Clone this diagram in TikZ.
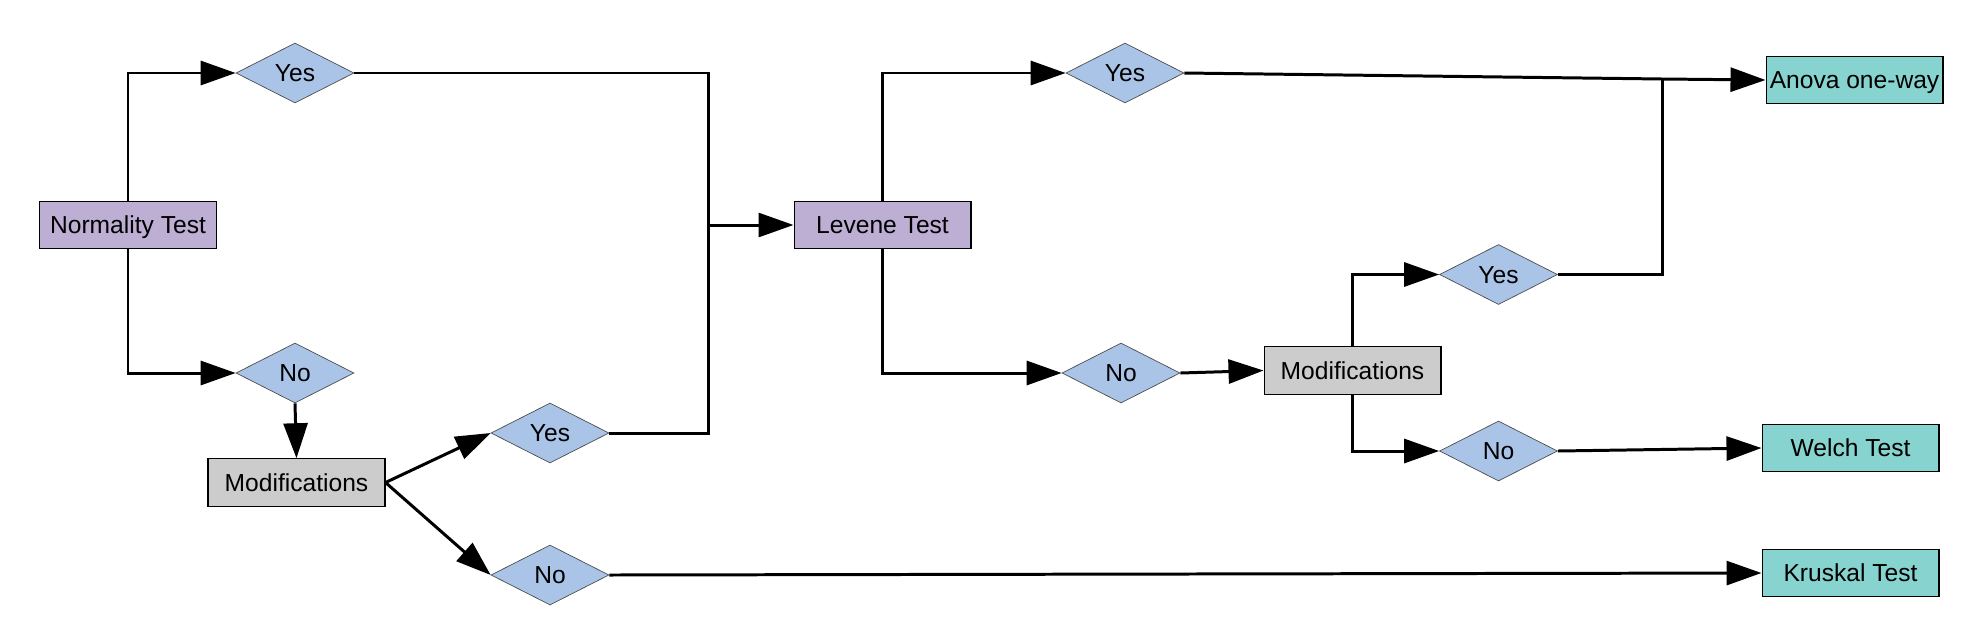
\documentclass[tikz,border=0pt]{standalone}
\usepackage{fontspec}
\setmainfont{Liberation Sans}
\usepackage{xcolor}
\usetikzlibrary{shapes.geometric,arrows.meta}
\definecolor{testcol}{RGB}{189,174,212}
\definecolor{answercol}{RGB}{170,196,232}
\definecolor{modcol}{RGB}{204,204,204}
\definecolor{rescol}{RGB}{135,211,207}

\begin{document}
\begin{tikzpicture}[x=0.02cm,y=-0.02cm,font=\fontsize{14}{16}\selectfont]
  \tikzstyle{plainbox}=[rectangle,draw,line width=0.6pt,minimum width=3.54cm,minimum height=0.95cm,inner sep=0pt,text height=10pt,text depth=0pt]
  \tikzstyle{testbox}=[plainbox,fill=testcol]
  \tikzstyle{modbox}=[plainbox,fill=modcol]
  \tikzstyle{resbox}=[plainbox,fill=rescol,minimum height=0.93cm]
  \tikzstyle{answerdia}=[diamond,draw=black!70,line width=0.4pt,fill=answercol,minimum width=2.36cm,minimum height=1.2cm,inner sep=0pt,text height=10pt,text depth=0pt]
  \tikzstyle{flowline}=[line width=1.7pt]
  \tikzstyle{flowarrow}=[flowline,-{Triangle[length=0.7cm,width=0.48cm]}]
  \useasboundingbox (0,0) rectangle (1966,643);

  \node[testbox] (normality) at (128,225) {Normality Test};
  \node[answerdia] (yesA) at (295,73) {Yes};
  \node[answerdia] (noA) at (295,373) {No};
  \node[modbox] (modA) at (296.5,482.5) {Modifications};
  \node[answerdia] (yesB) at (550,433) {Yes};
  \node[answerdia] (noB) at (550,575) {No};
  \node[testbox] (levene) at (882.5,225) {Levene Test};
  \node[answerdia] (yesC) at (1125,73) {Yes};
  \node[answerdia] (noC) at (1121,373) {No};
  \node[modbox] (modB) at (1352.5,370.5) {Modifications};
  \node[answerdia] (yesD) at (1498.5,274.5) {Yes};
  \node[answerdia] (noD) at (1498.5,451) {No};
  \node[resbox] (anova) at (1854.5,80) {Anova one-way};
  \node[resbox] (welch) at (1850.5,448) {Welch Test};
  \node[resbox] (kruskal) at (1850.5,573) {Kruskal Test};
  \coordinate (jA) at (708,225);
  \coordinate (jB) at (1662,79);

  \draw[flowarrow] (normality.north) |- (yesA.west);
  \draw[flowarrow] (normality.south) |- (noA.west);
  \draw[flowarrow] (noA.south) -- (modA.north);
  \draw[flowarrow] (modA.east) -- (yesB.west);
  \draw[flowarrow] (modA.east) -- (noB.west);
  \draw[flowline] (yesA.east) -| (jA) |- (yesB.east);
  \draw[flowarrow] (jA) -- (levene.west);
  \draw[flowarrow] (noB.east) -- (kruskal.west);
  \draw[flowarrow] (levene.north) |- (yesC.west);
  \draw[flowarrow] (levene.south) |- (noC.west);
  \draw[flowarrow] (noC.east) -- (modB.west);
  \draw[flowarrow] (modB.north) |- (yesD.west);
  \draw[flowarrow] (modB.south) |- (noD.west);
  \draw[flowline] (yesC.east) -- (jB);
  \draw[flowline] (yesD.east) -| (jB);
  \draw[flowarrow] (jB) -- (anova.west);
  \draw[flowarrow] (noD.east) -- (welch.west);
\end{tikzpicture}
\end{document}
